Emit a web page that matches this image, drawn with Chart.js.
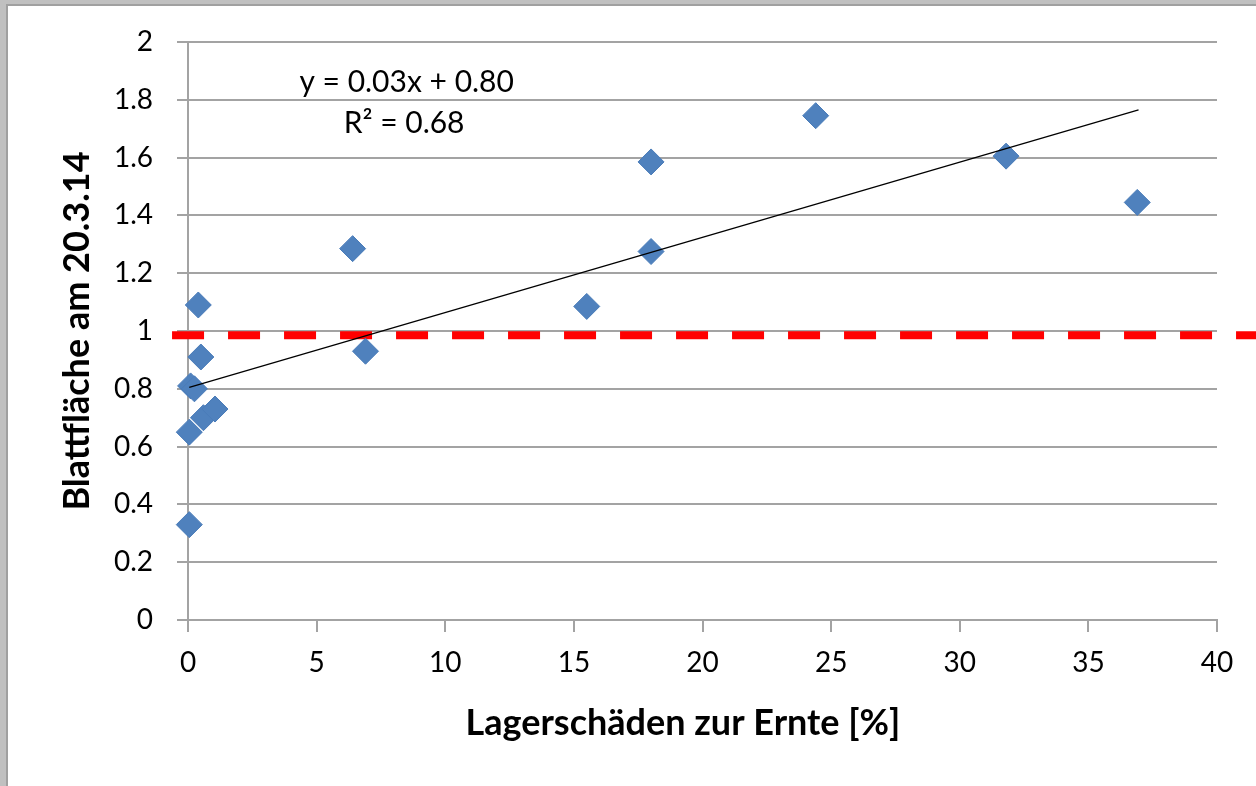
<!DOCTYPE html>
<html>
<head>
<meta charset="utf-8">
<script src="https://cdn.jsdelivr.net/npm/chart.js@4"></script>
<style>
  html, body { margin: 0; padding: 0; background: #fff; }
  #wrap { width: 1256px; height: 786px; }
</style>
</head>
<body>
<div id="wrap"><canvas id="chart"></canvas></div>
<script>
// values
const lodgingPct = [0.4, 0.5, 0.1, 0.25, 0.05, 0.6, 1.05, 0.05, 6.4, 6.9, 15.5, 18.0, 18.0, 24.4, 31.8, 36.9];
const leafArea = [1.09, 0.91, 0.81, 0.80, 0.65, 0.70, 0.73, 0.33, 1.285, 0.93, 1.085, 1.275, 1.585, 1.745, 1.605, 1.445];

// trendline end points (y = 0.03x + 0.80)
const trendX = [0.05, 36.95];
const trendY = [0.805, 1.765];

// red reference line near 1
const refX = [-0.62, 44];
const refY = [0.985, 0.985];

const yTitle = 'Blattfläche am 20.3.14';
const xTitle = 'Lagerschäden zur Ernte [%]';
const eqLines = ['y = 0.03x + 0.80', 'R² = 0.68'];

const FONT = 'Lato';
const gridColor = '#a3a3a3';

const decorations = {
  id: 'decorations',
  beforeDraw(chart) {
    const { ctx, width, height } = chart;
    ctx.save();
    ctx.fillStyle = '#ffffff';
    ctx.fillRect(0, 0, width, height);
    // grey frame on top and left edge
    ctx.fillStyle = '#c0c0c0';
    ctx.fillRect(0, 0, width, 6);
    ctx.fillRect(0, 0, 8, height);
    ctx.fillStyle = '#a0a0a0';
    ctx.fillRect(6, 4, width, 2);
    ctx.fillRect(6, 4, 2, height);
    ctx.restore();
  },
  afterDraw(chart) {
    const { ctx, chartArea, scales } = chart;
    ctx.save();
    ctx.fillStyle = '#000';
    ctx.textAlign = 'center';
    ctx.textBaseline = 'middle';

    // equation label
    ctx.font = '30px ' + FONT;
    ctx.fillText(eqLines[0], scales.x.getPixelForValue(8.5), scales.y.getPixelForValue(1.862));
    ctx.fillText(eqLines[1], scales.x.getPixelForValue(8.4), scales.y.getPixelForValue(1.72));

    // axis titles
    ctx.font = 'bold 36px ' + FONT;
    ctx.fillText(xTitle, 683, 723);
    ctx.translate(77, (chartArea.top + chartArea.bottom) / 2);
    ctx.rotate(-Math.PI / 2);
    ctx.fillText(yTitle, 0, 0);
    ctx.restore();
  }
};

function setupChart() {
  const points = lodgingPct.map((x, i) => ({ x, y: leafArea[i] }));
  const trend = trendX.map((x, i) => ({ x, y: trendY[i] }));
  const refLine = refX.map((x, i) => ({ x, y: refY[i] }));

  new Chart(document.getElementById('chart'), {
    type: 'scatter',
    data: {
      datasets: [
        {
          label: 'Trend',
          data: trend,
          showLine: true,
          borderColor: '#000000',
          borderWidth: 1.3,
          pointRadius: 0,
        },
        {
          label: 'Blattfläche',
          data: points,
          pointStyle: 'rectRot',
          pointRadius: 13,
          backgroundColor: '#4f81bd',
          borderColor: '#4a7cb9',
          borderWidth: 1,
          clip: false,
        },
        {
          label: 'Referenz',
          data: refLine,
          showLine: true,
          borderColor: '#ff0000',
          borderWidth: 8,
          borderDash: [32, 24],
          pointRadius: 0,
          clip: false,
        },
      ],
    },
    options: {
      responsive: true,
      maintainAspectRatio: false,
      animation: false,
      events: [],
      layout: {
        padding: { left: 0, top: 42, right: 39, bottom: 0 },
      },
      plugins: {
        legend: { display: false },
        tooltip: { enabled: false },
      },
      scales: {
        x: {
          type: 'linear',
          min: 0,
          max: 40,
          afterFit: (scale) => { scale.height = 166; },
          ticks: {
            stepSize: 5,
            color: '#000',
            padding: 14,
            font: { family: FONT, size: 28 },
          },
          grid: {
            drawOnChartArea: false,
            drawTicks: true,
            tickLength: 12,
            color: gridColor,
            lineWidth: 2,
          },
          border: { display: true, color: gridColor, width: 2 },
        },
        y: {
          type: 'linear',
          min: 0,
          max: 2,
          afterFit: (scale) => { scale.width = 188; },
          ticks: {
            stepSize: 0.2,
            color: '#000',
            padding: 24,
            font: { family: FONT, size: 28 },
            callback: (value) => String(Number(value.toFixed(1))),
          },
          grid: {
            drawTicks: true,
            tickLength: 11,
            color: gridColor,
            lineWidth: 2,
          },
          border: { display: true, color: gridColor, width: 2 },
        },
      },
    },
    plugins: [decorations],
  });
}

document.addEventListener('DOMContentLoaded', setupChart);
</script>
</body>
</html>
